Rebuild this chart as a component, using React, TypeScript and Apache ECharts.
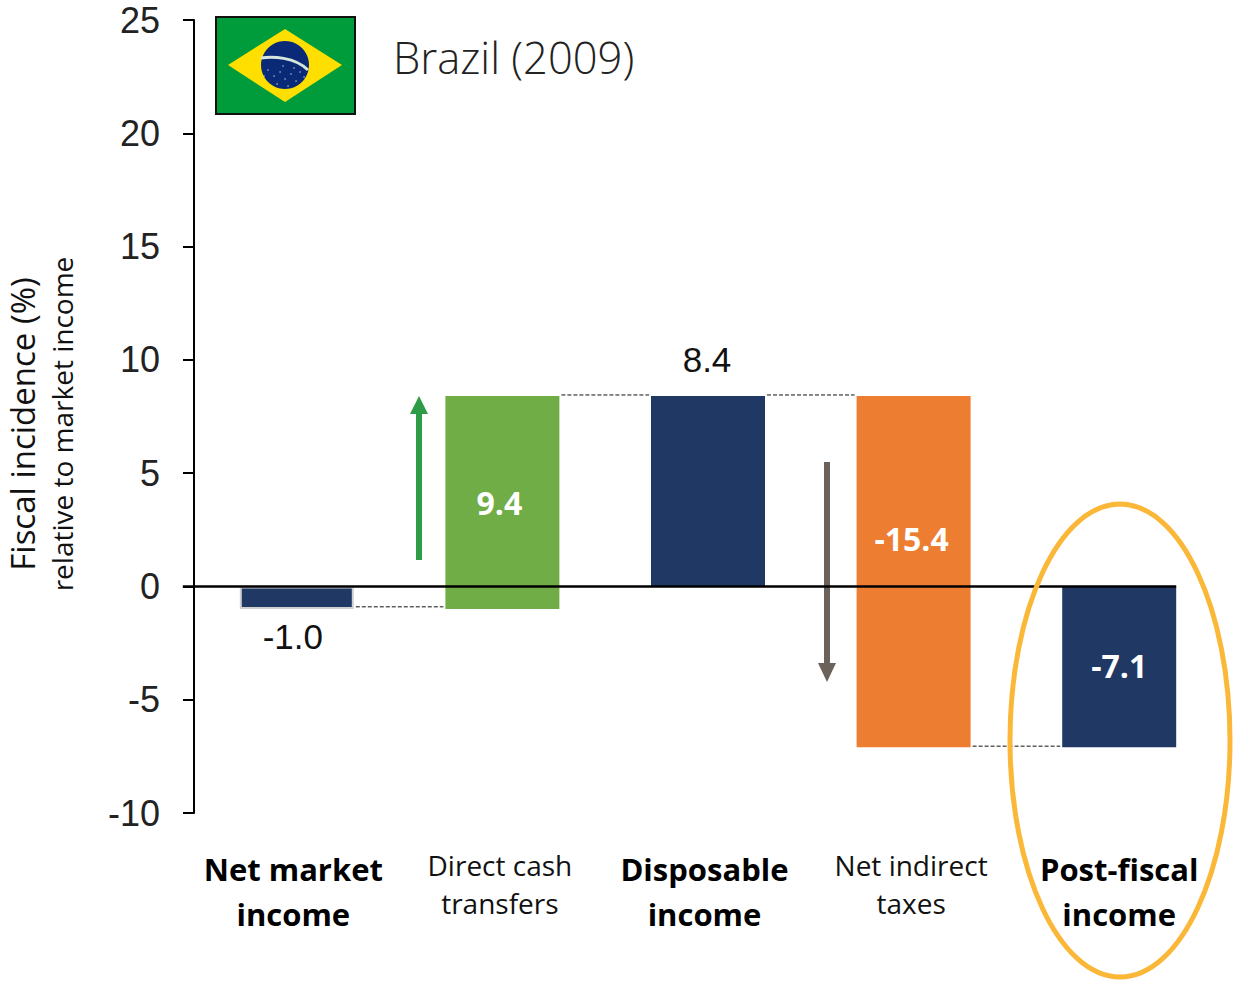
import React, { useEffect, useRef } from "react";
import * as echarts from "echarts";

const categories = ["Net market income", "Direct cash transfers", "Disposable income", "Net indirect taxes", "Post-fiscal income"];
const categoryLines = [["Net market", "income"], ["Direct cash", "transfers"], ["Disposable", "income"], ["Net indirect", "taxes"], ["Post-fiscal", "income"]];
const isTotal = [true, false, true, false, true];
const barTop = [0, 8.4, 8.4, 8.4, 0];
const barBottom = [-1.0, -1.0, 0, -7.1, -7.1];
const barColors = ["#1F3864", "#70AD47", "#1F3864", "#ED7D31", "#1F3864"];
const valueLabels = ["-1.0", "9.4", "8.4", "-15.4", "-7.1"];
const valueLabelAt = [-2.2, 3.7, 10, 2.1, -3.5];
const valueLabelColors = ["#111111", "#FFFFFF", "#111111", "#FFFFFF", "#FFFFFF"];
const valueLabelNudge = [-4, -3, -1, -2, 0];
const connectorLevels = [-0.9, 8.45, 8.45, -7.05];
const yTicks = { min: -10, max: 25, interval: 5 };
const flagStars = [[268,70],[274,76],[280,72],[285,79],[291,74],[296,81],[300,72],[277,84],[288,86],[304,77],[264,76],[283,66],[294,68]];

const BAR_W = 114;

export default function App() {
  const ref = useRef<HTMLDivElement>(null);
  useEffect(() => {
    document.body.style.margin = "0";
    document.body.style.background = "#fff";
    const chart = echarts.init(ref.current!, undefined, { renderer: "svg" });
    const font = "'Open Sans', sans-serif";
    const arial = "'Liberation Sans', Arial, sans-serif";
    chart.setOption({
      animation: false,
      backgroundColor: "#ffffff",
      grid: { left: 194, top: 20, width: 1028, height: 793, containLabel: false },
      xAxis: {
        type: "category",
        data: categories,
        position: "bottom",
        axisLine: { show: false, onZero: false },
        axisTick: { show: false },
        axisLabel: {
          interval: 0,
          margin: 33,
          verticalAlign: "top",
          formatter: (_: string, i: number) => {
            const s = isTotal[i] ? "b" : "n";
            const suffix = i === 4 ? "" : "o";
            return categoryLines[i].map((l) => `{${s}${suffix}|${l}}`).join("\n");
          },
          rich: {
            b: { fontFamily: font, fontWeight: 700, fontSize: 31, lineHeight: 45, color: "#000" },
            n: { fontFamily: font, fontSize: 28, lineHeight: 38, color: "#111" },
            bo: { fontFamily: font, fontWeight: 700, fontSize: 31, lineHeight: 45, color: "#000", padding: [0, 7, 0, 0] },
            no: { fontFamily: font, fontSize: 28, lineHeight: 38, color: "#111", padding: [0, 5, 0, 0] },
          },
        },
      },
      yAxis: {
        type: "value",
        ...yTicks,
        splitLine: { show: false },
        axisLine: { show: true, onZero: false, lineStyle: { color: "#000", width: 2 } },
        axisTick: { show: true, length: 11, lineStyle: { color: "#000", width: 2 } },
        axisLabel: { margin: 34, fontFamily: arial, fontSize: 36, color: "#222" },
      },
      series: [
        {
          type: "bar",
          name: "above",
          stack: "w",
          barWidth: BAR_W,
          data: barTop.map((v, i) => ({ value: v, itemStyle: { color: barColors[i] } })),
        },
        {
          type: "bar",
          name: "below",
          stack: "w",
          barWidth: BAR_W,
          data: barBottom.map((v, i) => ({
            value: v,
            itemStyle: { color: barColors[i], ...(i === 0 ? { borderColor: "#D0D0D0", borderWidth: 2 } : {}) },
          })),
        },
        {
          type: "custom",
          name: "connectors",
          z: 1,
          data: connectorLevels.map((v, i) => [i, v]),
          renderItem: (_: any, api: any) => {
            const a = api.coord([api.value(0), api.value(1)]);
            const b = api.coord([api.value(0) + 1, api.value(1)]);
            return {
              type: "line",
              shape: { x1: a[0] + BAR_W / 2 + 2, y1: a[1], x2: b[0] - BAR_W / 2 - 2, y2: b[1] },
              style: { stroke: "#111", lineWidth: 1, lineDash: [4, 2] },
            };
          },
        },
        {
          type: "custom",
          name: "zero line",
          z: 5,
          data: [[0, 0]],
          renderItem: (_: any, api: any) => {
            const a = api.coord([0, 0]);
            const b = api.coord([categories.length - 1, 0]);
            return {
              type: "line",
              shape: { x1: a[0] - 114, y1: a[1], x2: b[0] + BAR_W / 2, y2: b[1] },
              style: { stroke: "#000", lineWidth: 2.5 },
            };
          },
        },
        {
          type: "scatter",
          name: "values",
          z: 6,
          symbolSize: 1,
          itemStyle: { color: "rgba(0,0,0,0)", opacity: 1 },
          data: valueLabelAt.map((v, i) => ({
            value: [i, v],
            label: {
              show: true,
              position: "inside",
              opacity: 1,
              offset: [valueLabelNudge[i], 0],
              formatter: valueLabels[i],
              color: valueLabelColors[i],
              fontFamily: valueLabelColors[i] === "#FFFFFF" ? font : arial,
              fontWeight: valueLabelColors[i] === "#FFFFFF" ? 700 : 400,
              fontSize: valueLabelColors[i] === "#FFFFFF" ? 32 : 35,
            },
          })),
        },
      ],
      graphic: [
        { type: "text", x: 22, y: 424, rotation: Math.PI / 2, style: { text: "Fiscal incidence (%)", font: `33px ${font}`, fill: "#111", align: "center", verticalAlign: "middle" } },
        { type: "text", x: 62, y: 424, rotation: Math.PI / 2, style: { text: "relative to market income", font: `28px ${font}`, fill: "#111", align: "center", verticalAlign: "middle" } },
        { type: "text", x: 393, y: 57, style: { text: "Brazil (2009)", font: `300 43.5px ${font}`, fill: "#222", verticalAlign: "middle" } },
        { type: "rect", shape: { x: 216, y: 17, width: 139, height: 97 }, style: { fill: "#009B3A", stroke: "#111", lineWidth: 2 } },
        { type: "polygon", shape: { points: [[228, 65], [285, 29], [342, 65], [285, 102]] }, style: { fill: "#FEDF00" } },
        { type: "circle", shape: { cx: 285, cy: 65, r: 24 }, style: { fill: "#0A2A78" } },
        { type: "bezierCurve", shape: { x1: 261, y1: 58, cpx1: 272, cpy1: 56, cpx2: 295, cpy2: 57, x2: 308, y2: 70 }, style: { stroke: "#D5E6DC", lineWidth: 3, fill: "none" } },
        ...flagStars.map(([cx, cy]) => ({ type: "circle", shape: { cx, cy, r: 0.7 }, style: { fill: "#C8D8E8" } })),
        { type: "line", shape: { x1: 419, y1: 560, x2: 419, y2: 412 }, style: { stroke: "#2E9B47", lineWidth: 6 } },
        { type: "polygon", shape: { points: [[410, 414], [419, 396], [428, 414]] }, style: { fill: "#2E9B47" } },
        { type: "line", shape: { x1: 827, y1: 462, x2: 827, y2: 665 }, style: { stroke: "#6B625B", lineWidth: 6 } },
        { type: "polygon", shape: { points: [[818, 663], [836, 663], [827, 682]] }, style: { fill: "#6B625B" } },
        { type: "ellipse", z: 10, shape: { cx: 1120, cy: 740.5, rx: 110, ry: 236.5 }, style: { fill: "none", stroke: "#FBB838", lineWidth: 5 } },
      ],
    });
    return () => chart.dispose();
  }, []);
  return <div ref={ref} style={{ width: 1238, height: 985 }} />;
}
